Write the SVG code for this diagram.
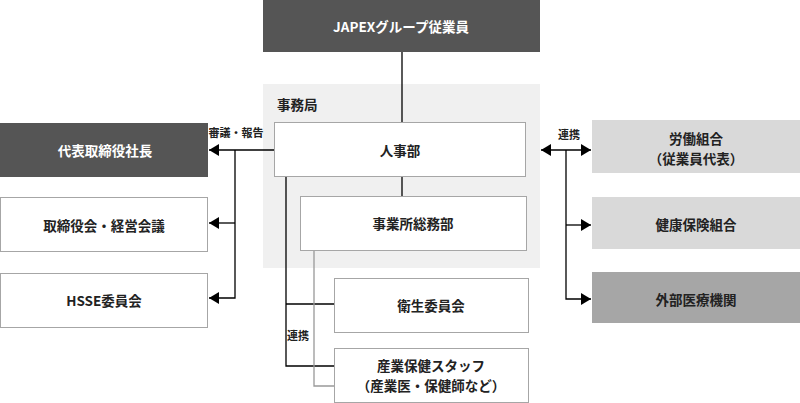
<svg xmlns="http://www.w3.org/2000/svg" width="800" height="403" viewBox="0 0 800 403">
<style>
text{font-family:"Noto Sans CJK JP","Noto Sans",sans-serif;font-weight:bold;font-size:13.5px;fill:#222;text-anchor:middle;dominant-baseline:central}
.dark{fill:#555555}
.wt{fill:#fff}
.white{fill:#fff;stroke:#a6a6a6;stroke-width:1}
.lg{fill:#d9d9d9}
.mg{fill:#a6a6a6}
.lbl{font-size:11px}
.ln{fill:none;stroke:#000;stroke-width:1.3}
.gl{fill:none;stroke:#999;stroke-width:1.3}
</style>
<defs>
<marker id="ah" viewBox="0 0 10 12" refX="10" refY="6" markerWidth="11" markerHeight="12" markerUnits="userSpaceOnUse" orient="auto-start-reverse">
<path d="M0,0 L10,6 L0,12 z" fill="#000"/>
</marker>
</defs>
<rect x="263" y="84" width="277" height="184" fill="#f0f0f0"/>
<text x="277" y="104" style="text-anchor:start">事務局</text>
<g id="connectors">
<path class="ln" d="M402,52 V122"/>
<path class="ln" d="M402,176 V196"/>
<path class="ln" d="M274,150 H209" marker-end="url(#ah)"/>
<path class="ln" d="M235,150 V298 H209" marker-end="url(#ah)"/>
<path class="ln" d="M235,223 H209" marker-end="url(#ah)"/>
<path class="ln" d="M541,150 H591" marker-start="url(#ah)" marker-end="url(#ah)"/>
<path class="ln" d="M566,150 V299 H591" marker-end="url(#ah)"/>
<path class="ln" d="M566,225 H591" marker-end="url(#ah)"/>
<path class="ln" d="M286,176 V366 H334"/>
<path class="ln" d="M286,304 H334"/>
<path class="gl" d="M314,250 V386 H334"/>
</g>
<text class="lbl" x="236" y="132">審議・報告</text>
<text class="lbl" x="569" y="134">連携</text>
<text class="lbl" x="298" y="335">連携</text>
<g id="n-top"><rect class="dark" x="263" y="0" width="277" height="52"/><text class="wt" x="401" y="26">JAPEXグループ従業員</text></g>
<g id="n-jinji"><rect class="white" x="274.5" y="122.5" width="251" height="54"/><text x="400" y="150">人事部</text></g>
<g id="n-somu"><rect class="white" x="300.5" y="196.5" width="226" height="54"/><text x="413" y="223">事業所総務部</text></g>
<g id="n-eisei"><rect class="white" x="334.5" y="278.5" width="194" height="54"/><text x="431" y="305">衛生委員会</text></g>
<g id="n-staff"><rect class="white" x="334.5" y="348.5" width="194" height="54"/><text x="431" y="365">産業保健スタッフ</text><text x="431" y="384.5">（産業医・保健師など）</text></g>
<g id="n-ceo"><rect class="dark" x="0" y="123" width="208" height="54"/><text class="wt" x="105" y="150">代表取締役社長</text></g>
<g id="n-board"><rect class="white" x="0.5" y="197.5" width="207" height="54"/><text x="104" y="225">取締役会・経営会議</text></g>
<g id="n-hsse"><rect class="white" x="0.5" y="273.5" width="207" height="54"/><text x="104" y="300">HSSE委員会</text></g>
<g id="n-union"><rect class="lg" x="592" y="120" width="208" height="53"/><text x="696" y="138">労働組合</text><text x="696" y="157.5">（従業員代表）</text></g>
<g id="n-kenpo"><rect class="lg" x="592" y="197" width="208" height="52"/><text x="696" y="224">健康保険組合</text></g>
<g id="n-iryo"><rect class="mg" x="592" y="272" width="208" height="51"/><text x="696" y="299">外部医療機関</text></g>
</svg>
